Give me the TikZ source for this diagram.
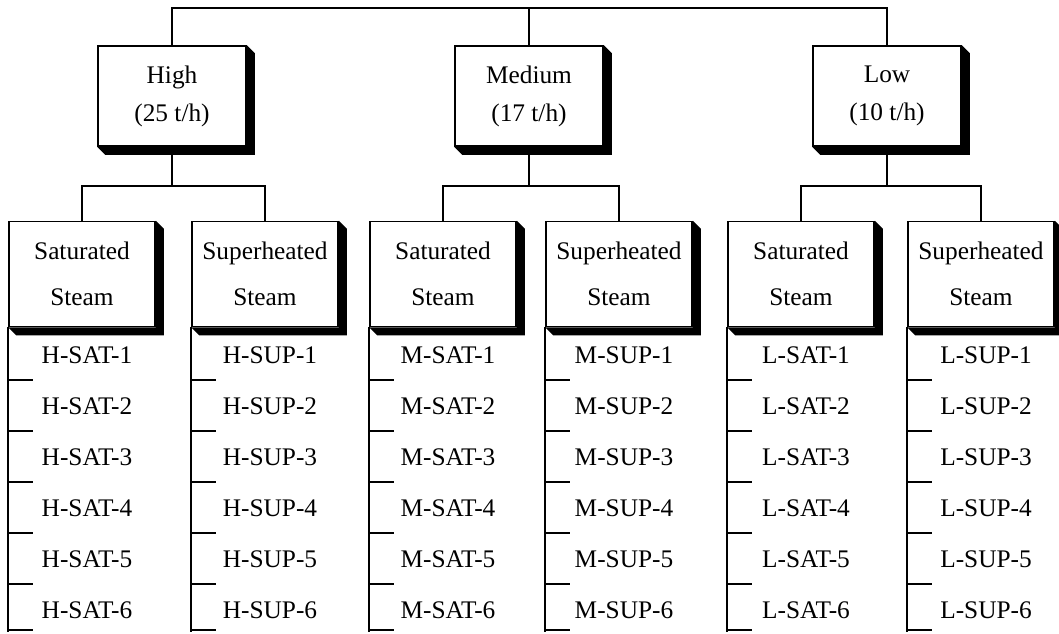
\documentclass[tikz,border=0pt]{standalone}
\usepackage{fontspec}
\setmainfont{Liberation Serif}
\usetikzlibrary{positioning}

\newcommand{\boxshade}[1]{%
  \fill (#1.north east) -- ++(8,8) -- ([shift={(8,8)}]#1.south east)
    -- ([shift={(8,8)}]#1.south west) -- (#1.south west) -- (#1.south east) -- cycle;}

\begin{document}
\begin{tikzpicture}[
    x=0.75pt,y=-0.75pt,
    lvlbox/.style={draw,line width=1.2pt,fill=white,minimum width=111pt,minimum height=75pt,align=center,font=\fontsize{19}{28.5}\selectfont},
    kindbox/.style={draw,line width=1.2pt,fill=white,minimum width=109.5pt,minimum height=78.75pt,align=center,font=\fontsize{19}{35}\selectfont},
    item/.style={font=\fontsize{19}{23}\selectfont,inner sep=1pt},
    link/.style={line width=1pt},
    leader/.style={line width=1.3pt}
  ]
    \useasboundingbox (0,0) rectangle (1059,634);

    % steam levels
    \node[lvlbox] (hi) at (172,96) {High\\(25 t/h)};
    \node[lvlbox] (med) at (529,96) {Medium\\(17 t/h)};
    \node[lvlbox] (lo) at (887,96) {Low\\(10 t/h)};

    % steam kinds
    \node[kindbox] (hisat) at (82,274) {Saturated\\Steam};
    \node[kindbox] (hisup) at (265,274) {Superheated\\Steam};
    \node[kindbox] (medsat) at (443,274) {Saturated\\Steam};
    \node[kindbox] (medsup) at (619,274) {Superheated\\Steam};
    \node[kindbox] (losat) at (801,274) {Saturated\\Steam};
    \node[kindbox] (losup) at (981,274) {Superheated\\Steam};

    \foreach \n in {hi,med,lo,hisat,hisup,medsat,medsup,losat,losup} {
      \boxshade{\n}
    }

    % tree lines
    \coordinate (topbus) at (529,8);
    \draw[link] (hi.north) |- (topbus) -| (lo.north);
    \draw[link] (med.north) -- (topbus);

    \foreach \p/\a/\b in {hi/hisat/hisup,med/medsat/medsup,lo/losat/losup} {
      \coordinate (\p bus) at (\p.south |- 0,186);
      \draw[link] (\p.south) -- (\p bus);
      \draw[link] (\a.north) |- (\p bus) -| (\b.north);
    }

    % item lists
    \foreach \s/\t/\x in {hisat/H-SAT/82,hisup/H-SUP/265,medsat/M-SAT/443,medsup/M-SUP/619,losat/L-SAT/801,losup/L-SUP/981} {
      \draw[leader] (\s.south west) -- (\s.south west |- 0,632);
      \foreach \i in {1,...,6}
        \node[item] (\s\i) at (\x+5,304+51*\i) {\t-\i};
      \foreach \y in {380,431,482,533,584,630}
        \draw[leader] (\s.south west |- 0,\y) -- ++(25,0);
    }
  \end{tikzpicture}
\end{document}
